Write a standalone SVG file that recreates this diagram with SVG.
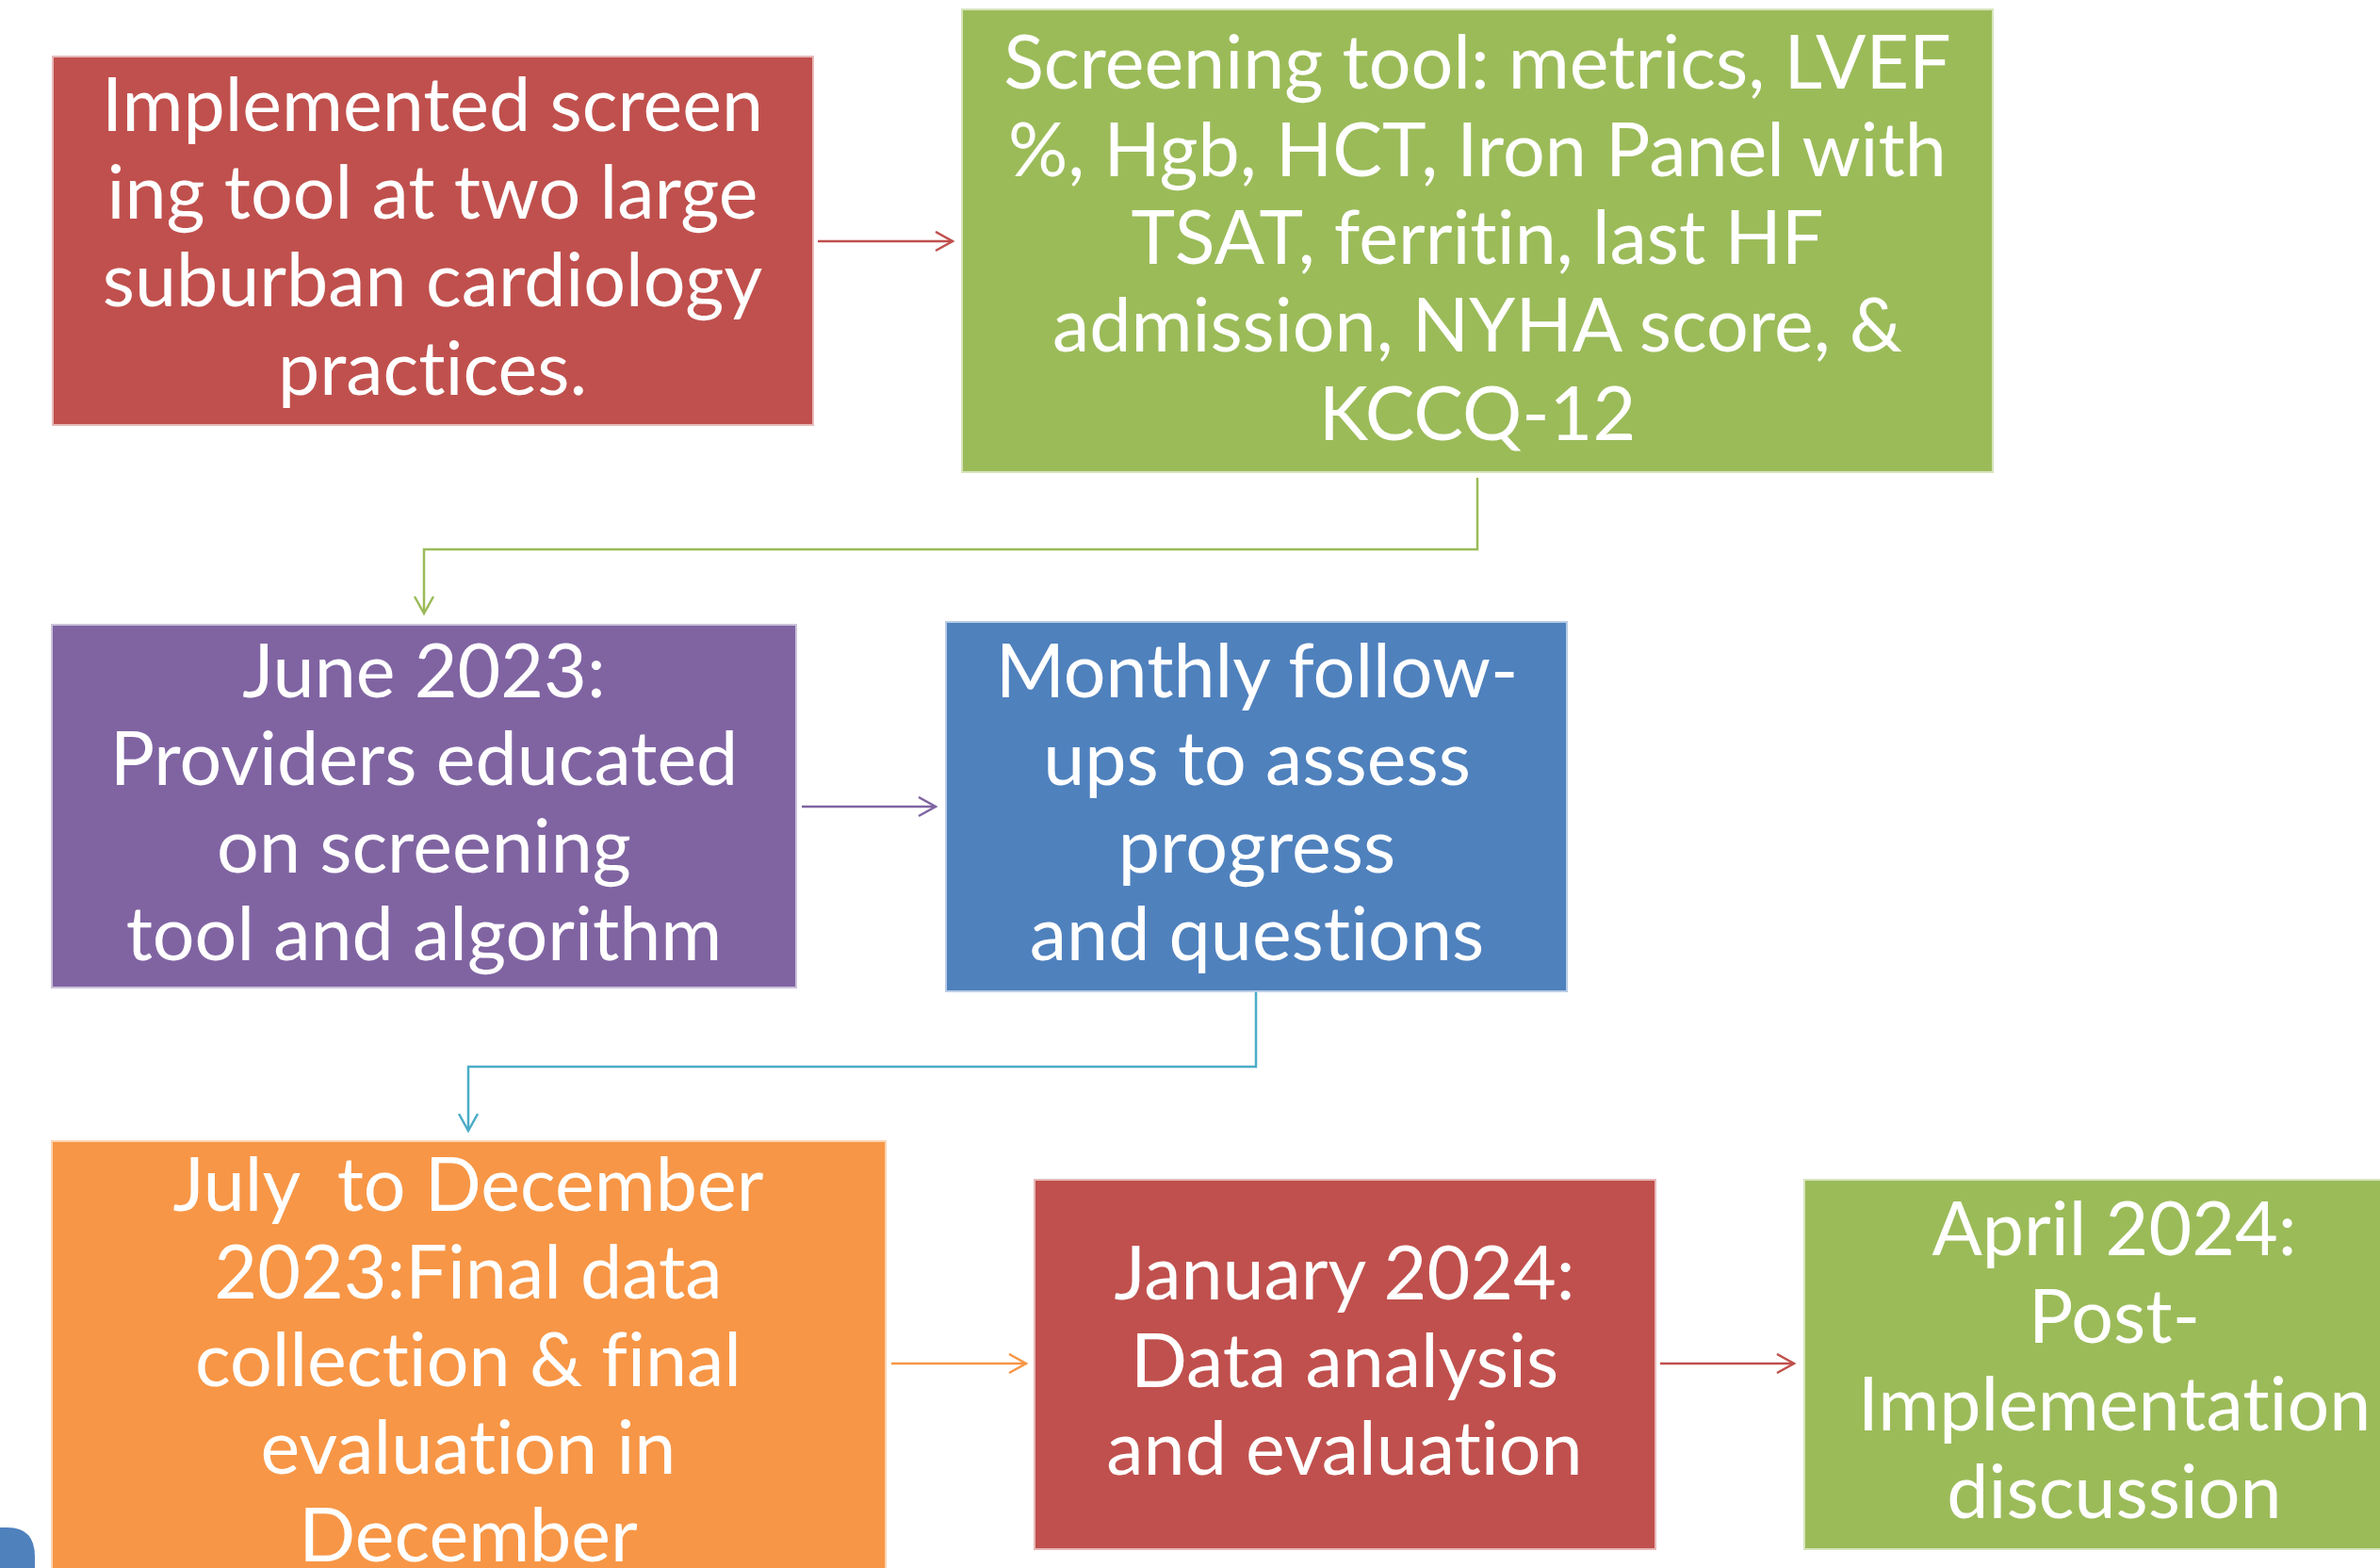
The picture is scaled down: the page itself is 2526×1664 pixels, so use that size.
<svg xmlns="http://www.w3.org/2000/svg" width="2526" height="1664" viewBox="0 0 2526 1664">
<style>
.box{stroke-width:2}
.t{font-family:Lato,"Liberation Sans",sans-serif;font-size:79px;fill:#fff;text-anchor:middle;white-space:pre;font-variant-ligatures:none}
.c{fill:none;stroke-width:2.5}
</style>
<defs>
<marker id="aR" markerUnits="userSpaceOnUse" markerWidth="24" markerHeight="24" refX="19" refY="11" orient="auto"><path d="M1,1 L19,11 L1,21" fill="none" stroke="#C0504D" stroke-width="2.5"/></marker>
<marker id="aG" markerUnits="userSpaceOnUse" markerWidth="24" markerHeight="24" refX="19" refY="11" orient="auto"><path d="M1,1 L19,11 L1,21" fill="none" stroke="#9BBB59" stroke-width="2.5"/></marker>
<marker id="aP" markerUnits="userSpaceOnUse" markerWidth="24" markerHeight="24" refX="19" refY="11" orient="auto"><path d="M1,1 L19,11 L1,21" fill="none" stroke="#8064A2" stroke-width="2.5"/></marker>
<marker id="aB" markerUnits="userSpaceOnUse" markerWidth="24" markerHeight="24" refX="19" refY="11" orient="auto"><path d="M1,1 L19,11 L1,21" fill="none" stroke="#4BACC6" stroke-width="2.5"/></marker>
<marker id="aO" markerUnits="userSpaceOnUse" markerWidth="24" markerHeight="24" refX="19" refY="11" orient="auto"><path d="M1,1 L19,11 L1,21" fill="none" stroke="#F79646" stroke-width="2.5"/></marker>
</defs>
<rect width="2526" height="1664" fill="#fff"/>
<path d="M0,1621 H8 Q37,1621 37,1652 V1664 H0 Z" fill="#4F81BD"/>
<g id="connectors">
<path class="c" stroke="#C0504D" d="M868,256 H1011" marker-end="url(#aR)"/>
<path class="c" stroke="#9BBB59" d="M1568,507 V583 H450 V651" marker-end="url(#aG)"/>
<path class="c" stroke="#8064A2" d="M851,856 H993" marker-end="url(#aP)"/>
<path class="c" stroke="#4BACC6" d="M1333,1038 V1132 H497 V1200" marker-end="url(#aB)"/>
<path class="c" stroke="#F79646" d="M946,1447 H1089" marker-end="url(#aO)"/>
<path class="c" stroke="#C0504D" d="M1762,1447 H1904" marker-end="url(#aR)"/>
</g>
<g id="n1">
<rect class="box" x="56" y="60" width="807" height="391" fill="#C0504D" stroke="#E6B9B8"/>
<text class="t" x="459" y="139">Implemented screen</text>
<text class="t" x="459" y="232">ing tool at two large</text>
<text class="t" x="459" y="325">suburban cardiology</text>
<text class="t" x="459" y="419">practices.</text>
</g>
<g id="n2">
<rect class="box" x="1021" y="10" width="1094" height="491" fill="#9BBB59" stroke="#D7E4BD"/>
<text class="t" x="1568" y="94">Screening tool: metrics, LVEF</text>
<text class="t" x="1568" y="187">%, Hgb, HCT, Iron Panel with</text>
<text class="t" x="1568" y="280">TSAT, ferritin, last HF</text>
<text class="t" x="1568" y="373">admission, NYHA score, &amp;</text>
<text class="t" x="1568" y="467">KCCQ-12</text>
</g>
<g id="n3">
<rect class="box" x="55" y="663" width="790" height="385" fill="#8064A2" stroke="#CCC1DA"/>
<text class="t" x="450" y="740">June 2023:</text>
<text class="t" x="450" y="833">Providers educated</text>
<text class="t" x="450" y="926">on screening</text>
<text class="t" x="450" y="1019">tool and algorithm</text>
</g>
<g id="n4">
<rect class="box" x="1004" y="660" width="659" height="392" fill="#4F81BD" stroke="#B9CDE5"/>
<text class="t" x="1334" y="740">Monthly follow-</text>
<text class="t" x="1334" y="833">ups to assess</text>
<text class="t" x="1334" y="926">progress</text>
<text class="t" x="1334" y="1019">and questions</text>
</g>
<g id="n5">
<rect class="box" x="55" y="1211" width="885" height="470" fill="#F79646" stroke="#FCD5B5"/>
<text class="t" x="497" y="1285">July  to December</text>
<text class="t" x="497" y="1378">2023:Final data</text>
<text class="t" x="497" y="1471">collection &amp; final</text>
<text class="t" x="497" y="1564">evaluation in</text>
<text class="t" x="497" y="1657">December</text>
</g>
<g id="n6">
<rect class="box" x="1098" y="1252" width="659" height="392" fill="#C0504D" stroke="#E6B9B8"/>
<text class="t" x="1427" y="1379">January 2024:</text>
<text class="t" x="1427" y="1472">Data analysis</text>
<text class="t" x="1427" y="1565">and evaluation</text>
</g>
<g id="n7">
<rect class="box" x="1915" y="1252" width="660" height="392" fill="#9BBB59" stroke="#D7E4BD"/>
<text class="t" x="2244" y="1332">April 2024:</text>
<text class="t" x="2244" y="1425">Post-</text>
<text class="t" x="2244" y="1518">Implementation</text>
<text class="t" x="2244" y="1611">discussion</text>
</g>
</svg>
